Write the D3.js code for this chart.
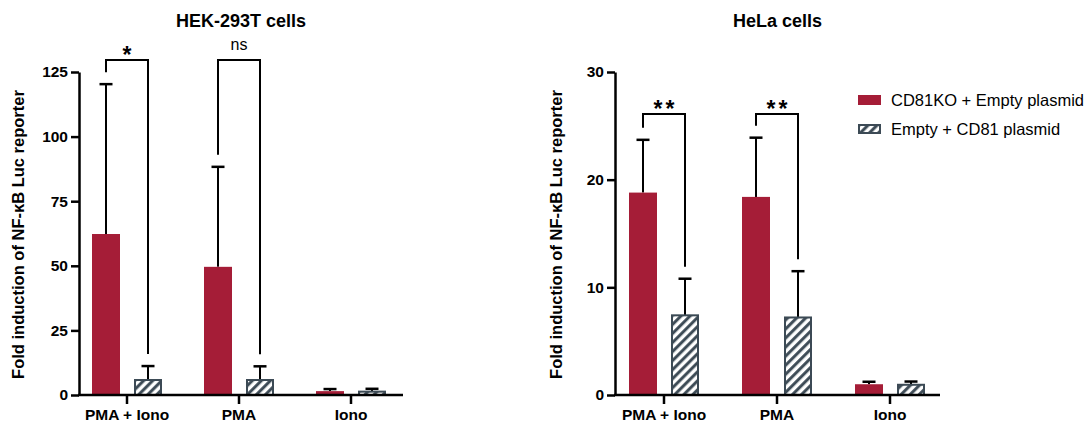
<!DOCTYPE html>
<html>
<head>
<meta charset="utf-8">
<script src="https://cdn.jsdelivr.net/npm/d3@7"></script>
<style>
  body { margin: 0; background: #fff; }
  svg { font-family: Arial, "Liberation Sans", Helvetica, sans-serif; }
</style>
</head>
<body>
<div id="chart"></div>
<script>
// data (mean and SD, upward error bars only)
var categories = ["PMA + Iono", "PMA", "Iono"];
var seriesNames = ["CD81KO + Empty plasmid", "Empty + CD81 plasmid"];

var hekKO = [62.3, 49.6, 1.5];
var hekKOsd = [58.0, 38.7, 0.8];
var hekCD81 = [5.8, 5.8, 1.3];
var hekCD81sd = [5.4, 5.3, 1.1];

var helaKO = [18.8, 18.4, 1.0];
var helaKOsd = [4.9, 5.5, 0.23];
var helaCD81 = [7.4, 7.2, 0.95];
var helaCD81sd = [3.4, 4.3, 0.3];

var hekTicks = [0, 25, 50, 75, 100, 125];
var helaTicks = [0, 10, 20, 30];

var hekSig = [{cat: "PMA + Iono", label: "*"}, {cat: "PMA", label: "ns"}];
var helaSig = [{cat: "PMA + Iono", label: "**"}, {cat: "PMA", label: "**"}];

var red = "#a51d37", slate = "#3c4a55";

var width = 1088, height = 427;
var svg = d3.select("#chart").append("svg")
    .attr("width", width)
    .attr("height", height);

var defs = svg.append("defs");
var pat = defs.append("pattern")
    .attr("id", "hatch")
    .attr("patternUnits", "userSpaceOnUse")
    .attr("width", 6.4)
    .attr("height", 6.4)
    .attr("patternTransform", "rotate(45)");
pat.append("rect").attr("width", 6.4).attr("height", 6.4).attr("fill", "#fff");
pat.append("line")
    .attr("x1", 1.6).attr("x2", 1.6)
    .attr("y1", 0).attr("y2", 6.4)
    .attr("stroke", slate)
    .attr("stroke-width", 3);

function drawPanel(opt) {
    var g = svg.append("g").attr("transform", "translate(" + opt.left + "," + opt.top + ")");

    var y = d3.scaleLinear().domain(opt.domain).range([opt.h, 0]);
    var x = d3.scalePoint().domain(categories).range(opt.xr);
    var sub = d3.scaleBand().domain(seriesNames).range([-35, 35]).paddingInner(1 / 3);

    var rows = categories.map(function (c, i) {
        return [
            {cat: c, s: seriesNames[0], v: opt.ko[i], sd: opt.kosd[i]},
            {cat: c, s: seriesNames[1], v: opt.cd[i], sd: opt.cdsd[i]}
        ];
    });
    var flat = [].concat.apply([], rows);

    // error bars (drawn first so bars sit over them)
    var eb = g.selectAll(".err").data(flat).enter().append("g");
    eb.append("line")
        .attr("x1", function (d) { return x(d.cat) + sub(d.s) + sub.bandwidth() / 2; })
        .attr("x2", function (d) { return x(d.cat) + sub(d.s) + sub.bandwidth() / 2; })
        .attr("y1", function (d) { return y(d.v); })
        .attr("y2", function (d) { return y(d.v + d.sd); })
        .attr("stroke", "#000").attr("stroke-width", 2);
    eb.append("line")
        .attr("x1", function (d) { return x(d.cat) + sub(d.s) + sub.bandwidth() / 2 - 6.5; })
        .attr("x2", function (d) { return x(d.cat) + sub(d.s) + sub.bandwidth() / 2 + 6.5; })
        .attr("y1", function (d) { return y(d.v + d.sd); })
        .attr("y2", function (d) { return y(d.v + d.sd); })
        .attr("stroke", "#000").attr("stroke-width", 2.5);

    // bars
    g.selectAll(".bar").data(flat).enter().append("rect")
        .attr("x", function (d) { return x(d.cat) + sub(d.s) + (d.s == seriesNames[1] ? 1 : 0); })
        .attr("width", function (d) { return sub.bandwidth() - (d.s == seriesNames[1] ? 2 : 0); })
        .attr("y", function (d) { return y(d.v); })
        .attr("height", function (d) { return y(0) - y(d.v); })
        .attr("fill", function (d) { return d.s == seriesNames[0] ? red : "url(#hatch)"; })
        .attr("stroke", function (d) { return d.s == seriesNames[0] ? "none" : slate; })
        .attr("stroke-width", 2);

    // y axis
    var ya = g.append("g")
        .call(d3.axisLeft(y).tickValues(opt.ticks).tickSize(8).tickSizeOuter(0).tickPadding(3));
    ya.select(".domain").attr("stroke-width", 2.5);
    ya.selectAll(".tick line").attr("stroke-width", 2.5);
    ya.selectAll("text").attr("font-size", 15.5).attr("font-weight", "bold").attr("fill", "#000")
        .attr("font-family", "Arial, 'Liberation Sans', sans-serif");

    // x axis
    g.append("line")
        .attr("x1", -1).attr("x2", opt.xlen)
        .attr("y1", y(0)).attr("y2", y(0))
        .attr("stroke", "#000").attr("stroke-width", 2.5);
    var xt = g.selectAll(".xt").data(categories).enter().append("g")
        .attr("transform", function (d) { return "translate(" + x(d) + "," + y(0) + ")"; });
    xt.append("line").attr("y1", 0).attr("y2", 9).attr("stroke", "#000").attr("stroke-width", 2.5);
    xt.append("text")
        .attr("y", 25)
        .attr("text-anchor", "middle")
        .attr("font-size", 15.5).attr("font-weight", "bold")
        .text(function (d) { return d; });

    // significance brackets
    opt.sig.forEach(function (s) {
        var i = categories.indexOf(s.cat);
        var x1 = x(s.cat) + sub(seriesNames[0]) + sub.bandwidth() / 2;
        var x2 = x(s.cat) + sub(seriesNames[1]) + sub.bandwidth() / 2;
        var top = y(opt.bracket);
        var yl = y(opt.ko[i] + opt.kosd[i]) - 12;
        var yr = y(opt.cd[i] + opt.cdsd[i]) - 12;
        g.append("path")
            .attr("d", "M" + x1 + "," + yl + "V" + top + "H" + x2 + "V" + yr)
            .attr("fill", "none").attr("stroke", "#000").attr("stroke-width", 2);
        var t = g.append("text")
            .attr("x", (x1 + x2) / 2)
            .attr("text-anchor", "middle")
            .text(s.label);
        if (s.label == "ns") {
            t.attr("y", top - 10).attr("font-size", 16);
        } else {
            t.attr("y", top + 3).attr("font-size", 23).attr("font-weight", "bold")
                .attr("letter-spacing", s.label.length > 1 ? 3 : 0)
                .attr("dx", s.label.length > 1 ? 1.5 : 0);
        }
    });

    // title
    g.append("text")
        .attr("x", opt.xlen / 2)
        .attr("y", 27 - opt.top)
        .attr("text-anchor", "middle")
        .attr("font-size", 18).attr("font-weight", "bold")
        .text(opt.title);

    // y label
    g.append("text")
        .attr("transform", "translate(" + (opt.ylabX - opt.left) + "," + (opt.h / 2 + 1) + ") rotate(-90)")
        .attr("text-anchor", "middle")
        .attr("font-size", 16.5).attr("font-weight", "bold")
        .text("Fold induction of NF-κB Luc reporter");
}

drawPanel({
    title: "HEK-293T cells", left: 79, top: 72, h: 323, xlen: 324, xr: [48, 272],
    domain: [0, 125], ticks: hekTicks, ko: hekKO, kosd: hekKOsd, cd: hekCD81, cdsd: hekCD81sd,
    sig: hekSig, bracket: 129.6, ylabX: 24
});
drawPanel({
    title: "HeLa cells", left: 615, top: 72, h: 323, xlen: 325, xr: [49, 275],
    domain: [0, 30], ticks: helaTicks, ko: helaKO, kosd: helaKOsd, cd: helaCD81, cdsd: helaCD81sd,
    sig: helaSig, bracket: 26.1, ylabX: 562
});

// legend
var legend = svg.append("g").attr("transform", "translate(858,95)");
var li = legend.selectAll("g").data(seriesNames).enter().append("g")
    .attr("transform", function (d, i) { return "translate(0," + (i * 29) + ")"; });
li.append("rect")
    .attr("x", function (d, i) { return i ? 1 : 0; })
    .attr("y", function (d, i) { return i ? 1 : 0; })
    .attr("width", function (d, i) { return i ? 21 : 23; })
    .attr("height", function (d, i) { return i ? 8 : 10; })
    .attr("fill", function (d, i) { return i ? "url(#hatch)" : red; })
    .attr("stroke", function (d, i) { return i ? slate : "none"; })
    .attr("stroke-width", 2);
li.append("text")
    .attr("x", 33).attr("y", 11)
    .attr("font-size", 16.5)
    .text(function (d) { return d; });
</script>
</body>
</html>
